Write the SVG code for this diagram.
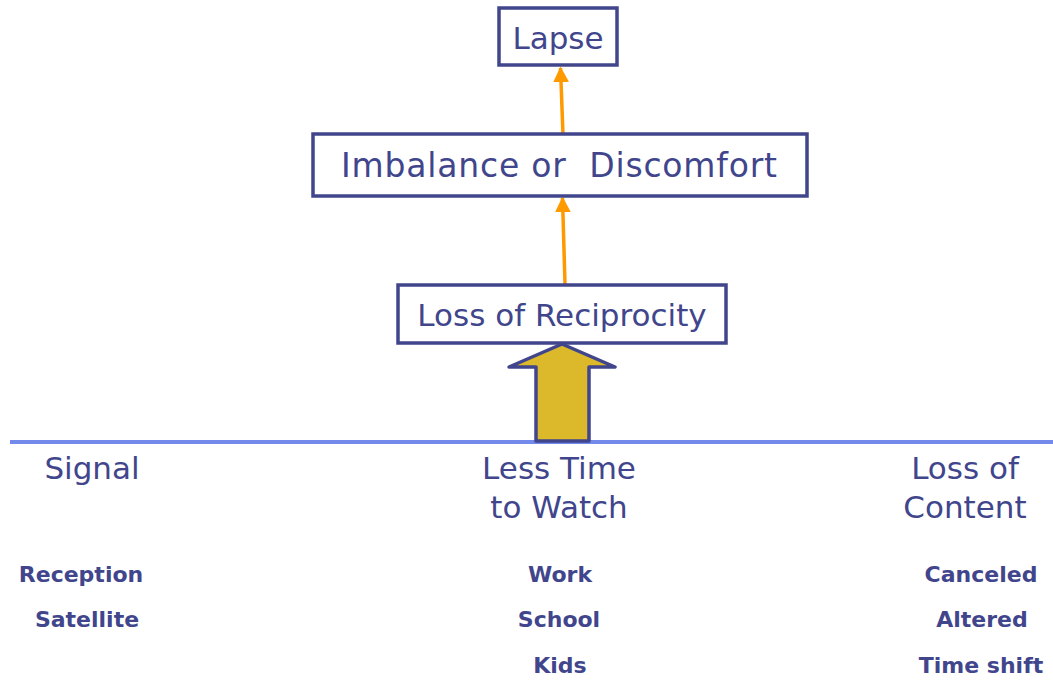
<svg xmlns="http://www.w3.org/2000/svg" width="1053" height="681" viewBox="0 0 1053 681">
  <defs>
    <style>
      .box { fill: #ffffff; stroke: #41468c; stroke-width: 3.5; }
      .big { font-family: "DejaVu Sans", "Noto Sans", sans-serif; font-size: 31px; fill: #41468c; text-anchor: middle; }
      .small { font-family: "DejaVu Sans", "Noto Sans", sans-serif; font-size: 22px; font-weight: bold; fill: #41468c; text-anchor: middle; }
      .link { stroke: #ff9900; stroke-width: 3.5; fill: none; }
    </style>
    <marker id="tip" viewBox="0 0 10 10" refX="9" refY="5" markerWidth="4.5" markerHeight="4.5" orient="auto" markerUnits="strokeWidth">
      <path d="M0,0 L10,5 L0,10 Z" fill="#ff9900"/>
    </marker>
  </defs>

  <rect width="1053" height="681" fill="#ffffff"/>

  <!-- baseline divider -->
  <line x1="10" y1="442" x2="1053" y2="442" stroke="#7389ec" stroke-width="4"/>

  <!-- connectors -->
  <g id="connectors">
    <line class="link" x1="563" y1="135" x2="560.5" y2="68" marker-end="url(#tip)"/>
    <line class="link" x1="565" y1="284" x2="562.5" y2="198" marker-end="url(#tip)"/>
    <path id="block-arrow" d="M536,441 L536,367 L509,367 L562,344 L615,367 L589,367 L589,441 Z" fill="#dbb92b" stroke="#41468c" stroke-width="3.5" stroke-linejoin="round"/>
  </g>

  <g id="lapse">
    <rect class="box" x="499" y="8" width="118" height="57"/>
    <text class="big" x="558" y="49">Lapse</text>
  </g>

  <g id="imbalance">
    <rect class="box" x="313" y="134" width="494" height="62"/>
    <text class="big" x="559" y="177" style="font-size:33px" xml:space="preserve" textLength="436" lengthAdjust="spacing">Imbalance or  Discomfort</text>
  </g>

  <g id="reciprocity">
    <rect class="box" x="398" y="285" width="328" height="58"/>
    <text class="big" x="562" y="326">Loss of Reciprocity</text>
  </g>

  <g id="signal">
    <text class="big" x="92" y="479">Signal</text>
    <text class="small" x="81" y="582">Reception</text>
    <text class="small" x="87" y="627">Satellite</text>
  </g>

  <g id="less-time">
    <text class="big" x="559" y="479">Less Time</text>
    <text class="big" x="559" y="518">to Watch</text>
    <text class="small" x="560" y="582">Work</text>
    <text class="small" x="559" y="627">School</text>
    <text class="small" x="560" y="673">Kids</text>
  </g>

  <g id="loss-content">
    <text class="big" x="965" y="479">Loss of</text>
    <text class="big" x="965" y="518">Content</text>
    <text class="small" x="981" y="582">Canceled</text>
    <text class="small" x="982" y="627">Altered</text>
    <text class="small" x="981" y="673">Time shift</text>
  </g>
</svg>
